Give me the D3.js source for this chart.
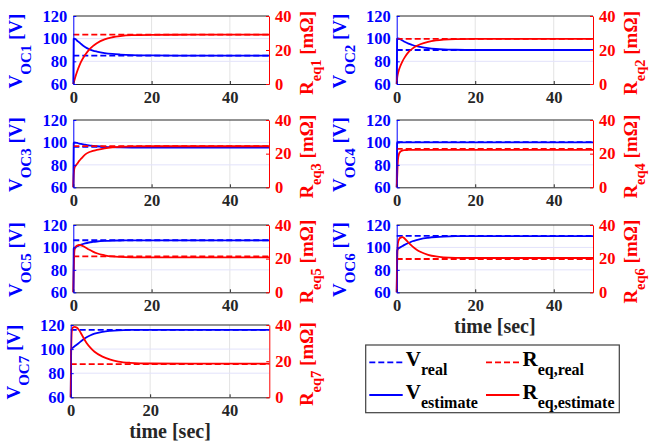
<!DOCTYPE html>
<html><head><meta charset="utf-8">
<script src="https://cdn.jsdelivr.net/npm/d3@7"></script>
<style>body{margin:0;background:#fff}svg{display:block}</style>
</head><body>
<svg id="c" width="649" height="446"></svg>
<script>
// ---------------- data ----------------
const time = [0, 0.1, 0.3, 0.6, 1, 1.5, 2, 3, 4, 5, 6, 8, 10, 12, 15, 20, 30, 40, 50];
const cellNames = ["1", "2", "3", "4", "5", "6", "7"];
const vReal = [85, 90, 96, 100.3, 106.4, 110.3, 116];
const rReal = [29, 26.5, 24.5, 22.8, 21.4, 19.8, 18.4];

const vEst1 = [60, 99.7, 100, 99.5, 98.2, 96.8, 95.3, 92.7, 90.8, 89.5, 88.6, 87.3, 86.5, 86, 85.5, 85.2, 85, 85, 85];
const vEst2 = [60, 99.7, 100.2, 100, 99.3, 98.3, 97.3, 95.6, 94.4, 93.4, 92.7, 91.6, 90.9, 90.5, 90.2, 90, 90, 90, 90];
const vEst3 = [60, 99.5, 100, 99.8, 99.5, 99, 98.7, 98, 97.4, 97, 96.6, 96.1, 95.8, 95.6, 95.5, 95.5, 95.5, 95.5, 95.5];
const vEst4 = [60, 99, 100, 100, 100, 100, 100, 100, 100, 100, 100, 100, 100, 100, 100, 100, 100, 100, 100];
const vEst5 = [60, 99, 99.7, 100.3, 101, 101.8, 102.5, 103.6, 104.4, 104.9, 105.3, 105.8, 106.1, 106.2, 106.3, 106.3, 106.3, 106.3, 106.3];
const vEst6 = [60, 97, 98.5, 99.5, 100.3, 101.3, 102.3, 104, 105.5, 106.6, 107.5, 108.6, 109.3, 109.7, 110, 110.1, 110.1, 110.1, 110.1];
const vEst7 = [60, 99, 100.5, 101.3, 102.3, 103.6, 104.9, 107.6, 109.8, 111.5, 112.8, 114.3, 115.1, 115.6, 115.9, 116, 116, 116, 116];

const rEst1 = [0, 0.8, 2.4, 4.7, 7.5, 10.5, 13.1, 17, 20.1, 22.3, 24, 26.3, 27.5, 28.2, 28.7, 28.9, 29, 29, 29];
const rEst2 = [0, 3, 6, 8.5, 11, 13.5, 15.5, 18.7, 20.8, 22.3, 23.4, 24.8, 25.6, 26.1, 26.4, 26.5, 26.5, 26.5, 26.5];
const rEst3 = [0, 7, 11.5, 12.8, 14, 15.7, 17, 19.4, 20.8, 21.6, 22.2, 23.2, 23.8, 24.1, 24.3, 24.4, 24.4, 24.4, 24.4];
const rEst4 = [0, 5, 16, 20, 21.3, 21.9, 22.1, 22.2, 22.3, 22.3, 22.3, 22.3, 22.3, 22.3, 22.3, 22.3, 22.3, 22.3, 22.3];
const rEst5 = [0, 12, 25, 27, 27.8, 28.1, 27.9, 26.8, 25.4, 24.2, 23.2, 22, 21.3, 21, 20.8, 20.7, 20.7, 20.7, 20.7];
const rEst6 = [0, 15, 29, 31.5, 32.5, 32.8, 32, 29.5, 27.3, 25.5, 24.1, 22.3, 21.3, 20.8, 20.5, 20.4, 20.4, 20.4, 20.4];
const rEst7 = [0, 22, 37, 38.7, 39, 38.6, 37.5, 33.8, 30, 27.3, 25.2, 22.5, 20.8, 19.8, 19.1, 18.7, 18.6, 18.6, 18.6];

const vEst = [vEst1, vEst2, vEst3, vEst4, vEst5, vEst6, vEst7];
const rEst = [rEst1, rEst2, rEst3, rEst4, rEst5, rEst6, rEst7];

const xTicks = [0, 20, 40];
const vTicks = [60, 80, 100, 120];
const rTicks = [0, 20, 40];

// ---------------- layout ----------------
const panels = [
  {x0: 73.3, x1: 269, y0: 16, y1: 84},
  {x0: 396.7, x1: 593, y0: 16, y1: 84},
  {x0: 73.3, x1: 269, y0: 120, y1: 187.3},
  {x0: 396.7, x1: 593, y0: 120, y1: 187.3},
  {x0: 73.3, x1: 269, y0: 225, y1: 292.3},
  {x0: 396.7, x1: 593, y0: 225, y1: 292.3, xlabel: true},
  {x0: 70.7, x1: 269.3, y0: 325, y1: 397.3, xlabel: true}
];
const BLUE = "#0000ff", RED = "#ff0000", DARK = "#262626";
const FONT = "'Liberation Serif', 'Times New Roman', serif";

const svg = d3.select("#c");

panels.forEach((p, i) => {
  const x = d3.scaleLinear().domain([0, 50]).range([p.x0, p.x1]);
  const yL = d3.scaleLinear().domain([60, 120]).range([p.y1, p.y0]);
  const yR = d3.scaleLinear().domain([0, 40]).range([p.y1, p.y0]);
  const g = svg.append("g");

  // grid
  g.append("g").selectAll("line").data(xTicks.filter(t => t > 0)).join("line")
    .attr("x1", d => x(d)).attr("x2", d => x(d)).attr("y1", p.y0).attr("y2", p.y1)
    .attr("stroke", "#e3e3e3").attr("stroke-width", 1);
  g.append("g").selectAll("line").data(vTicks.filter(t => t > 60 && t < 120)).join("line")
    .attr("x1", p.x0).attr("x2", p.x1).attr("y1", d => yL(d)).attr("y2", d => yL(d))
    .attr("stroke", "#e2e2fb").attr("stroke-width", 1);

  // lines
  const lineV = d3.line().x((d, k) => x(time[k])).y(d => yL(d)).curve(d3.curveMonotoneX);
  const lineR = d3.line().x((d, k) => x(time[k])).y(d => yR(d)).curve(d3.curveMonotoneX);
  g.append("line").attr("x1", x(0)).attr("x2", x(50)).attr("y1", yL(vReal[i])).attr("y2", yL(vReal[i]))
    .attr("stroke", BLUE).attr("stroke-width", 1.8).attr("stroke-dasharray", "6,3");
  g.append("path").attr("d", lineV(vEst[i])).attr("fill", "none").attr("stroke", BLUE).attr("stroke-width", 1.8);
  g.append("line").attr("x1", x(0)).attr("x2", x(50)).attr("y1", yR(rReal[i])).attr("y2", yR(rReal[i]))
    .attr("stroke", RED).attr("stroke-width", 1.8).attr("stroke-dasharray", "6,3");
  g.append("path").attr("d", lineR(rEst[i])).attr("fill", "none").attr("stroke", RED).attr("stroke-width", 1.8);

  // box top
  g.append("line").attr("x1", p.x0).attr("x2", p.x1).attr("y1", p.y0).attr("y2", p.y0).attr("stroke", DARK).attr("stroke-width", 1);

  // axes
  const ax = g.append("g").attr("transform", `translate(0,${p.y1})`)
    .call(d3.axisBottom(x).tickValues(xTicks).tickSize(-3).tickSizeOuter(0).tickPadding(7));
  ax.select(".domain").attr("stroke", DARK);
  ax.selectAll(".tick line").attr("stroke", DARK);
  ax.selectAll("text").attr("fill", DARK).attr("font-family", FONT).attr("font-weight", "bold").attr("font-size", 16.5);

  const al = g.append("g").attr("transform", `translate(${p.x0},0)`)
    .call(d3.axisLeft(yL).tickValues(vTicks).tickSize(-3).tickSizeOuter(0).tickPadding(6));
  al.select(".domain").attr("stroke", BLUE);
  al.selectAll(".tick line").attr("stroke", BLUE);
  al.selectAll("text").attr("fill", BLUE).attr("font-family", FONT).attr("font-weight", "bold").attr("font-size", 16.5);

  const ar = g.append("g").attr("transform", `translate(${p.x1},0)`)
    .call(d3.axisRight(yR).tickValues(rTicks).tickSize(-3).tickSizeOuter(0).tickPadding(6));
  ar.select(".domain").attr("stroke", RED);
  ar.selectAll(".tick line").attr("stroke", RED);
  ar.selectAll("text").attr("fill", RED).attr("font-family", FONT).attr("font-weight", "bold").attr("font-size", 16.5);

  const cy = (p.y0 + p.y1) / 2;
  // left label
  const tl = g.append("text").attr("transform", `translate(${p.x0 - 51},${cy + 1}) rotate(-90)`)
    .attr("text-anchor", "middle").attr("fill", BLUE).attr("font-family", FONT).attr("font-weight", "bold").attr("font-size", 19);
  tl.append("tspan").text("V");
  tl.append("tspan").attr("font-size", 15).attr("dy", 9).text("OC" + cellNames[i]);
  tl.append("tspan").attr("dy", -9).text(" [V]");
  // right label
  const tr = g.append("text").attr("transform", `translate(${p.x1 + 44},${cy + 3}) rotate(-90)`)
    .attr("text-anchor", "middle").attr("fill", RED).attr("font-family", FONT).attr("font-weight", "bold").attr("font-size", 19);
  tr.append("tspan").text("R");
  tr.append("tspan").attr("font-size", 14.5).attr("dy", 7.5).text("eq" + cellNames[i]);
  tr.append("tspan").attr("dy", -7.5).text(" [mΩ]");

  if (p.xlabel) {
    g.append("text").attr("x", (p.x0 + p.x1) / 2).attr("y", p.y1 + 41).attr("text-anchor", "middle")
      .attr("fill", DARK).attr("font-family", FONT).attr("font-weight", "bold").attr("font-size", 20).text("time [sec]");
  }
});

// ---------------- legend ----------------
const legendItems = [
  {main: "V", sub: "real", color: BLUE, dash: "6,3", col: 0, row: 0},
  {main: "R", sub: "eq,real", color: RED, dash: "6,3", col: 1, row: 0},
  {main: "V", sub: "estimate", color: BLUE, dash: null, col: 0, row: 1},
  {main: "R", sub: "eq,estimate", color: RED, dash: null, col: 1, row: 1}
];
const lg = svg.append("g");
lg.append("rect").attr("x", 365.7).attr("y", 345).attr("width", 253.6).attr("height", 67.7)
  .attr("fill", "#fff").attr("stroke", "#404040").attr("stroke-width", 1.2);
const colX = [369.3, 486], rowY = [362.3, 395];
legendItems.forEach(it => {
  const lx = colX[it.col], ly = rowY[it.row];
  const l = lg.append("line").attr("x1", lx).attr("x2", lx + 33.4).attr("y1", ly).attr("y2", ly)
    .attr("stroke", it.color).attr("stroke-width", 1.8);
  if (it.dash) l.attr("stroke-dasharray", it.dash);
  const t = lg.append("text").attr("x", lx + 36.5).attr("y", ly + 4).attr("fill", "#000")
    .attr("font-family", FONT).attr("font-weight", "bold").attr("font-size", 21);
  t.append("tspan").text(it.main);
  t.append("tspan").attr("font-size", 16).attr("dy", 9).text(it.sub);
});
</script>
</body></html>
